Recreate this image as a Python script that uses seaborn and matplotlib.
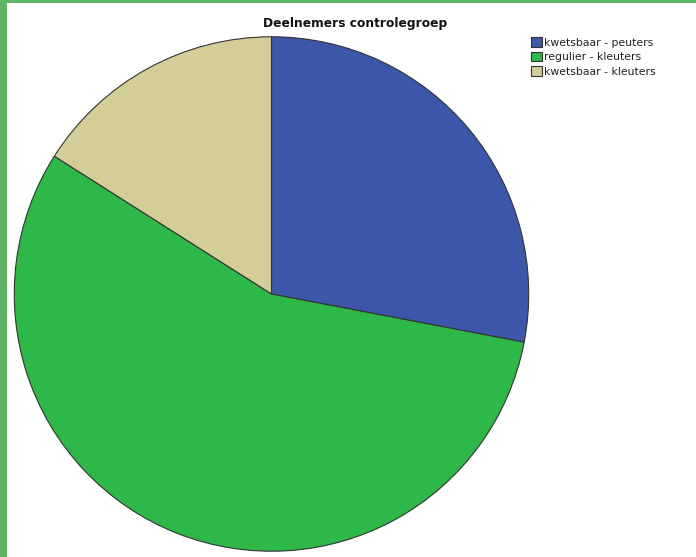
import matplotlib
matplotlib.use("Agg")
import matplotlib.pyplot as plt
import seaborn as sns
from matplotlib.patches import Rectangle

# Data
categories = ["kwetsbaar - peuters", "regulier - kleuters", "kwetsbaar - kleuters"]
counts = [7, 14, 4]
colors = ["#3C56A9", "#2EB84A", "#D3CD98"]

sns.set_theme(style="white")
plt.rcParams["font.family"] = ["DejaVu Sans"]

W, H = 696, 557
fig = plt.figure(figsize=(W / 100, H / 100), dpi=100)
fig.patch.set_facecolor("#5DB466")
# white panel inside the green frame
fig.patches.append(Rectangle((7 / W, 0), 1 - 7 / W, 1 - 3 / H,
                             transform=fig.transFigure, facecolor="white",
                             edgecolor="none", zorder=-10))

# pie axes, circle centre ~ (271.5, 294), radius ~ 258 px
cx, cy, r = 271.5, 294, 258
ax = fig.add_axes([(cx - r) / W, 1 - (cy + r) / H, 2 * r / W, 2 * r / H])
ax.patch.set_alpha(0)
wedges, _ = ax.pie(
    counts,
    colors=colors,
    startangle=90,
    counterclock=False,
    wedgeprops=dict(edgecolor="#333333", linewidth=0.8),
)
ax.set_xlim(-1.003, 1.003)
ax.set_ylim(-1.003, 1.003)
ax.set_aspect("equal")
ax.axis("off")

fig.text(355 / W, 1 - 24 / H, "Deelnemers controlegroep", ha="center",
         va="center", fontsize=8.8, fontweight="bold", color="#111111")

fig.legend(
    wedges, categories,
    loc="upper left",
    bbox_to_anchor=(530 / W, 1 - 36 / H),
    frameon=False,
    fontsize=7.8,
    handlelength=1.0,
    handleheight=1.0,
    handletextpad=0.2,
    labelspacing=0.38,
    borderpad=0.1,
    borderaxespad=0,
    labelcolor="#222222",
)

fig.savefig("out.png", dpi=100)
